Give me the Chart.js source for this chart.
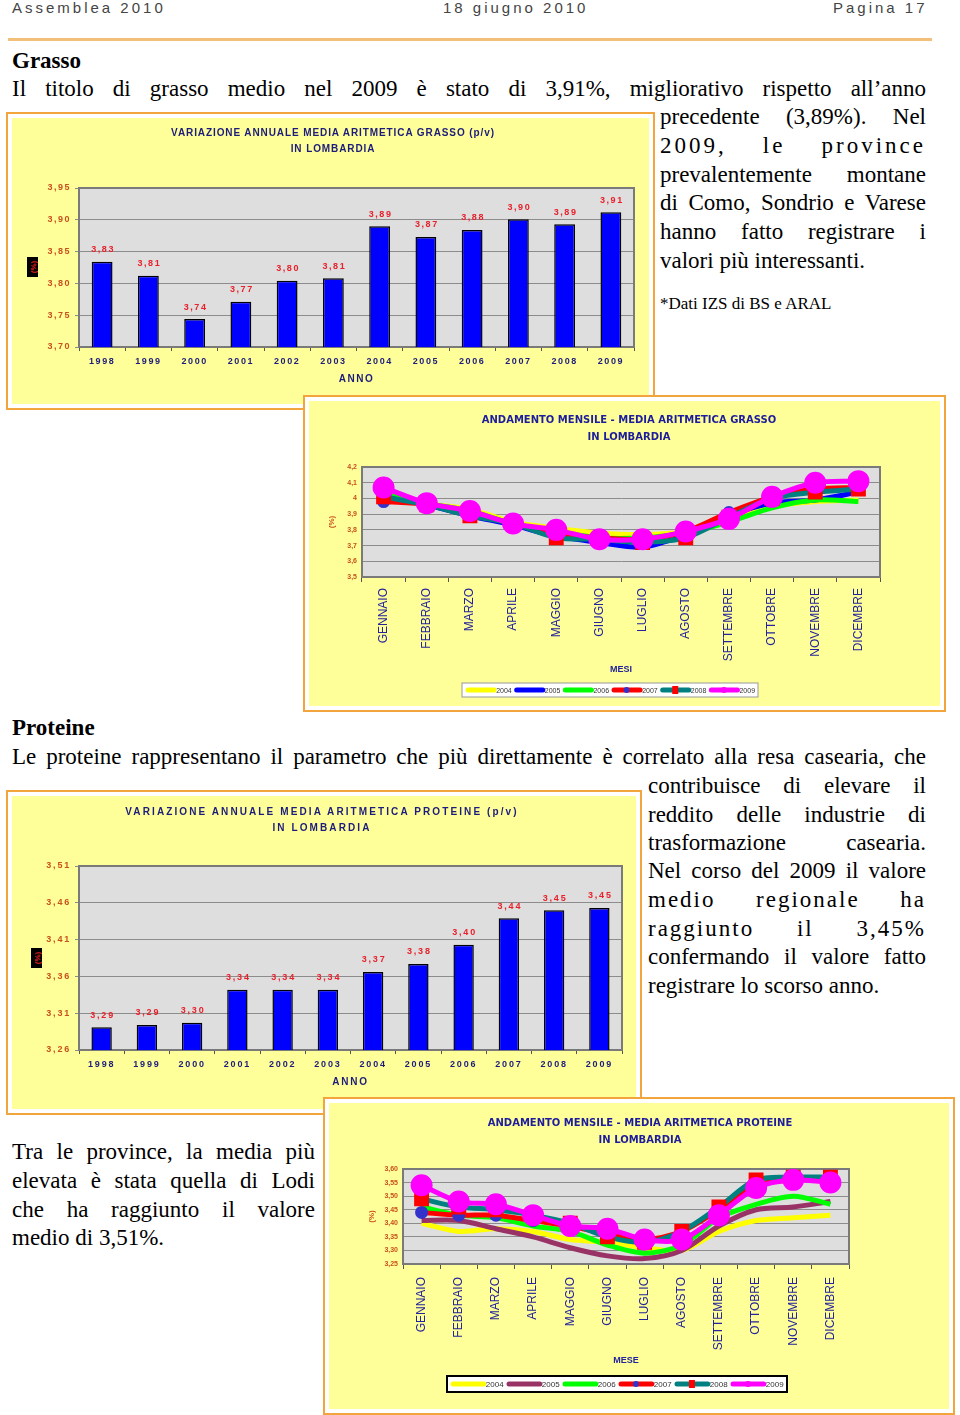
<!DOCTYPE html>
<html>
<head>
<meta charset="utf-8">
<script src="https://cdn.jsdelivr.net/npm/chart.js@4.4.0/dist/chart.umd.min.js"></script>
<style>
  body { margin: 0; background: #fff; width: 960px; height: 1415px; position: relative; overflow: hidden; font-family: "Liberation Serif", "DejaVu Serif", serif; }
  .hdr { position: absolute; top: -1px; font: 15px "Liberation Sans", Arial, sans-serif; letter-spacing: 3px; color: #444; line-height: 17px; }
  .rule { position: absolute; left: 8px; top: 38px; width: 924px; height: 3px; background: #f2c07a; }
  .ln { position: absolute; font-size: 23px; line-height: 29px; height: 29px; white-space: nowrap; color: #000; }
  .j { text-align: justify; text-align-last: justify; white-space: normal; overflow: hidden; }
  .h { font-weight: bold; }
  .box { position: absolute; box-sizing: border-box; border: 2px solid #f2a53c; background: #fff; }
  .box .in { position: absolute; left: 4px; top: 4px; right: 4px; bottom: 4px; background: #ffff99; }
  .ct { position: absolute; text-align: center; font: bold 10px "Liberation Sans", Arial, sans-serif; color: #1c1c7c; letter-spacing: 0.9px; line-height: 16px; }
  .ct2 { position: absolute; text-align: center; font: bold 10px "DejaVu Sans", sans-serif; color: #1c1c9c; line-height: 17px; }
  .pct { position: absolute; background: #000; width: 11px; height: 20px; }
  .pct span { position: absolute; left: 50%; top: 50%; transform: translate(-50%, -50%) rotate(-90deg); font: bold 8px "Liberation Sans", Arial, sans-serif; color: #e02020; white-space: nowrap; }
  canvas { position: absolute; }
</style>
</head>
<body>
<div class="hdr" style="left:12px">Assemblea 2010</div>
<div class="hdr" style="left:443px">18 giugno 2010</div>
<div class="hdr" style="left:833px">Pagina 17</div>
<div class="rule"></div>

<div class="ln h" style="left:12px;top:46px">Grasso</div>
<div class="ln j" style="left:12px;top:74px;width:914px">Il titolo di grasso medio nel 2009 è stato di 3,91%, migliorativo rispetto all’anno</div>
<div class="ln j" style="left:660px;top:102px;width:266px">precedente (3,89%). Nel</div>
<div class="ln j" style="left:660px;top:131px;width:266px;letter-spacing:3px">2009, le province</div>
<div class="ln j" style="left:660px;top:160px;width:266px">prevalentemente montane</div>
<div class="ln j" style="left:660px;top:188px;width:266px">di Como, Sondrio e Varese</div>
<div class="ln j" style="left:660px;top:217px;width:266px">hanno fatto registrare i</div>
<div class="ln" style="left:660px;top:246px">valori più interessanti.</div>
<div class="ln" style="left:660px;top:289px;font-size:17px">*Dati IZS di BS e ARAL</div>

<div class="ln h" style="left:12px;top:713px">Proteine</div>
<div class="ln j" style="left:12px;top:742px;width:914px">Le proteine rappresentano il parametro che più direttamente è correlato alla resa casearia, che</div>
<div class="ln j" style="left:648px;top:771px;width:278px">contribuisce di elevare il</div>
<div class="ln j" style="left:648px;top:800px;width:278px">reddito delle industrie di</div>
<div class="ln j" style="left:648px;top:828px;width:278px">trasformazione casearia.</div>
<div class="ln j" style="left:648px;top:856px;width:278px">Nel corso del 2009 il valore</div>
<div class="ln j" style="left:648px;top:885px;width:278px;letter-spacing:2px">medio regionale ha</div>
<div class="ln j" style="left:648px;top:914px;width:278px;letter-spacing:2px">raggiunto il 3,45%</div>
<div class="ln j" style="left:648px;top:942px;width:278px">confermando il valore fatto</div>
<div class="ln" style="left:648px;top:971px">registrare lo scorso anno.</div>

<div class="ln j" style="left:12px;top:1137px;width:303px">Tra le province, la media più</div>
<div class="ln j" style="left:12px;top:1166px;width:303px">elevata è stata quella di Lodi</div>
<div class="ln j" style="left:12px;top:1195px;width:303px">che ha raggiunto il valore</div>
<div class="ln" style="left:12px;top:1223px">medio di 3,51%.</div>

<!-- grasso annuale -->
<div class="box" style="left:6px;top:112px;width:649px;height:298px"><div class="in"></div></div>
<canvas id="c1" width="637" height="286" style="left:12px;top:118px"></canvas>
<div class="ct" style="left:83px;top:125px;width:500px">VARIAZIONE ANNUALE MEDIA ARITMETICA GRASSO (p/v)<br>IN LOMBARDIA</div>
<div class="pct" style="left:27px;top:257px"><span>(%)</span></div>

<!-- grasso mensile -->
<div class="box" style="left:303px;top:395px;width:643px;height:317px"><div class="in"></div></div>
<canvas id="c2" width="631" height="305" style="left:309px;top:401px"></canvas>
<div class="ct2" style="left:429px;top:411px;width:400px">ANDAMENTO MENSILE - MEDIA ARITMETICA GRASSO<br>IN LOMBARDIA</div>

<!-- proteine annuale -->
<div class="box" style="left:6px;top:790px;width:636px;height:325px"><div class="in"></div></div>
<canvas id="c3" width="624" height="313" style="left:12px;top:796px"></canvas>
<div class="ct" style="left:62px;top:804px;width:520px;letter-spacing:2.1px">VARIAZIONE ANNUALE MEDIA ARITMETICA PROTEINE (p/v)<br>IN LOMBARDIA</div>
<div class="pct" style="left:31px;top:948px"><span>(%)</span></div>

<!-- proteine mensile -->
<div class="box" style="left:323px;top:1097px;width:632px;height:318px"><div class="in"></div></div>
<canvas id="c4" width="620" height="306" style="left:329px;top:1103px"></canvas>
<div class="ct2" style="left:415px;top:1114px;width:450px">ANDAMENTO MENSILE - MEDIA ARITMETICA PROTEINE<br>IN LOMBARDIA</div>

<script>
// dati
const anni = ['1998', '1999', '2000', '2001', '2002', '2003', '2004', '2005', '2006', '2007', '2008', '2009'];
const grassoAnno = [3.834, 3.812, 3.744, 3.771, 3.804, 3.808, 3.890, 3.873, 3.884, 3.901, 3.893, 3.912];
const proteineAnno = [3.291, 3.294, 3.297, 3.342, 3.342, 3.342, 3.366, 3.377, 3.403, 3.439, 3.450, 3.453];
const yTicksGrassoAnno = [3.70, 3.75, 3.80, 3.85, 3.90, 3.95];
const yTicksProteineAnno = [3.26, 3.31, 3.36, 3.41, 3.46, 3.51];

const mesi = ['GENNAIO', 'FEBBRAIO', 'MARZO', 'APRILE', 'MAGGIO', 'GIUGNO', 'LUGLIO', 'AGOSTO', 'SETTEMBRE', 'OTTOBRE', 'NOVEMBRE', 'DICEMBRE'];
const serieAnni = ['2004', '2005', '2006', '2007', '2008', '2009'];

const grasso2004 = [4.05, 3.97, 3.93, 3.85, 3.81, 3.78, 3.77, 3.79, 3.87, 3.95, 3.98, 3.99];
const grasso2005 = [4.02, 3.96, 3.89, 3.83, 3.76, 3.72, 3.69, 3.77, 3.89, 3.97, 3.99, 4.04];
const grasso2006 = [4.05, 3.97, 3.92, 3.84, 3.79, 3.75, 3.75, 3.78, 3.85, 3.94, 3.99, 3.98];
const grasso2007 = [3.98, 3.96, 3.90, 3.84, 3.77, 3.75, 3.74, 3.79, 3.91, 4.01, 4.06, 4.07];
const grasso2008 = [4.01, 3.96, 3.89, 3.84, 3.75, 3.74, 3.72, 3.75, 3.88, 4.00, 4.04, 4.06];
const grasso2009 = [4.07, 3.97, 3.92, 3.84, 3.80, 3.74, 3.74, 3.79, 3.87, 4.01, 4.10, 4.11];
const yTicksGrassoMese = [3.5, 3.6, 3.7, 3.8, 3.9, 4.0, 4.1, 4.2];

const proteine2004 = [3.40, 3.37, 3.38, 3.37, 3.34, 3.33, 3.31, 3.30, 3.37, 3.41, 3.42, 3.43];
const proteine2005 = [3.41, 3.41, 3.38, 3.35, 3.31, 3.28, 3.27, 3.30, 3.39, 3.45, 3.46, 3.48];
const proteine2006 = [3.46, 3.43, 3.42, 3.39, 3.37, 3.32, 3.29, 3.32, 3.42, 3.47, 3.50, 3.47];
const proteine2007 = [3.44, 3.43, 3.43, 3.41, 3.39, 3.36, 3.34, 3.37, 3.45, 3.54, 3.56, 3.56];
const proteine2008 = [3.49, 3.46, 3.45, 3.43, 3.40, 3.35, 3.33, 3.37, 3.46, 3.56, 3.57, 3.57];
const proteine2009 = [3.54, 3.48, 3.47, 3.43, 3.39, 3.38, 3.34, 3.34, 3.43, 3.53, 3.56, 3.55];
const yTicksProteineMese = [3.25, 3.30, 3.35, 3.40, 3.45, 3.50, 3.55, 3.60];

const navy = '#1c1c7c';
const brown = '#c8501e';
const sans = '"Liberation Sans", Arial, sans-serif';
Chart.defaults.font.family = sans;

const comma = (v, d) => v.toFixed(d).replace('.', ',');

// sfondo grigio dell'area del grafico + bordo
const plotBg = {
  id: 'plotBg',
  beforeDraw(chart) {
    const { ctx, chartArea: a } = chart;
    ctx.save();
    ctx.fillStyle = '#dedede';
    ctx.fillRect(a.left, a.top, a.width, a.height);
    ctx.restore();
  },
  beforeDatasetsDraw(chart) {
    const { ctx, chartArea: a } = chart;
    ctx.save();
    ctx.strokeStyle = '#7a7a7a';
    ctx.lineWidth = 2;
    ctx.strokeRect(a.left, a.top, a.width, a.height);
    ctx.restore();
  }
};

const spacing = {
  id: 'spacing',
  beforeDraw(chart, args, o) { chart.ctx.letterSpacing = (o.px || 0) + 'px'; }
};

// etichette rosse sopra le barre
const barLabels = {
  id: 'barLabels',
  afterDatasetsDraw(chart) {
    const { ctx } = chart;
    const meta = chart.getDatasetMeta(0);
    const values = chart.data.datasets[0].data;
    ctx.save();
    ctx.font = 'bold 9px ' + sans;
    ctx.fillStyle = '#e8202a';
    ctx.textAlign = 'center';
    ctx.textBaseline = 'middle';
    meta.data.forEach((bar, i) => {
      ctx.fillText(comma(values[i], 2), bar.x + 1, bar.y - 12);
    });
    ctx.restore();
  }
};

// legenda in riquadro bianco (stile Excel)
const boxLegend = {
  id: 'boxLegend',
  afterDraw(chart, args, o) {
    const { ctx } = chart;
    const sets = chart.data.datasets;
    ctx.save();
    ctx.fillStyle = '#fff';
    ctx.fillRect(o.x, o.y, o.w, o.h);
    ctx.strokeStyle = o.border;
    ctx.lineWidth = o.bw;
    ctx.strokeRect(o.x, o.y, o.w, o.h);
    const step = (o.w - 4) / sets.length;
    const ym = o.y + o.h / 2;
    sets.forEach((ds, i) => {
      const x0 = o.x + 3 + i * step;
      const len = step * 0.64;
      ctx.strokeStyle = ds.borderColor;
      ctx.lineWidth = 5;
      ctx.lineCap = 'round';
      ctx.beginPath();
      ctx.moveTo(x0 + 3, ym);
      ctx.lineTo(x0 + len - 2, ym);
      ctx.stroke();
      if (ds.pointRadius > 0) {
        const mx = x0 + len / 2;
        ctx.fillStyle = ds.pointBackgroundColor;
        if (ds.pointStyle === 'rect') {
          ctx.fillRect(mx - 3, ym - 4, 6, 8);
        } else {
          ctx.beginPath();
          ctx.arc(mx, ym, 3, 0, Math.PI * 2);
          ctx.fill();
        }
      }
      ctx.fillStyle = '#333';
      ctx.font = o.fontSize + 'px ' + sans;
      ctx.textAlign = 'left';
      ctx.textBaseline = 'middle';
      ctx.fillText(ds.label, x0 + len, ym + 1);
    });
    ctx.restore();
  }
};

function barChart(id, values, yTicks, pad, xHeight, titlePad, ls) {
  return new Chart(document.getElementById(id), {
    type: 'bar',
    data: {
      labels: anni,
      datasets: [{
        data: values,
        backgroundColor: '#0000ff',
        borderColor: '#000',
        borderWidth: 1.5,
        barPercentage: 0.45,
        categoryPercentage: 1
      }]
    },
    options: {
      responsive: false,
      animation: false,
      layout: { padding: pad },
      plugins: {
        legend: { display: false },
        tooltip: { enabled: false },
        spacing: { px: ls }
      },
      scales: {
        x: {
          grid: { drawOnChartArea: false, tickLength: 4, color: '#555' },
          border: { color: '#555', width: 1 },
          ticks: { color: navy, font: { size: 9, weight: 'bold' }, padding: 5, maxRotation: 0 },
          title: { display: true, text: 'ANNO', color: navy, font: { size: 10, weight: 'bold' }, padding: { top: 0, bottom: titlePad } },
          afterFit(s) { s.height = xHeight; }
        },
        y: {
          min: yTicks[0],
          max: yTicks[yTicks.length - 1],
          afterBuildTicks(s) { s.ticks = yTicks.map(v => ({ value: v })); },
          ticks: { color: brown, font: { size: 9, weight: 'bold' }, padding: 4, callback: v => comma(v, 2) },
          grid: { color: '#8c8c8c', tickLength: 4 },
          border: { color: '#555' },
          afterFit(s) { s.width = 67; }
        }
      }
    },
    plugins: [spacing, plotBg, barLabels]
  });
}

function lineSets(vals, c2005) {
  const colors = ['#ffff00', c2005, '#00ff00', '#ff0000', '#008080', '#ff00ff'];
  return vals.map((data, i) => {
    const ds = {
      label: serieAnni[i],
      data,
      borderColor: colors[i],
      borderWidth: 5,
      tension: 0.3,
      pointRadius: 0,
      order: 6 - i
    };
    if (i === 3) Object.assign(ds, { pointRadius: 4, pointStyle: 'circle', pointBackgroundColor: '#3333cc', pointBorderColor: '#3333cc' });
    if (i === 4) Object.assign(ds, { pointRadius: 7, pointStyle: 'rect', pointBackgroundColor: '#ff0000', pointBorderColor: '#ff0000' });
    if (i === 5) Object.assign(ds, { pointRadius: 8.5, pointStyle: 'circle', pointBackgroundColor: '#ff00ff', pointBorderColor: '#ff00ff', borderWidth: 5 });
    return ds;
  });
}

function lineChart(id, sets, yTicks, dec, pad, yWidth, yTitlePad, xHeight, xTitle, tickPad, legend) {
  return new Chart(document.getElementById(id), {
    type: 'line',
    data: { labels: mesi, datasets: sets },
    options: {
      responsive: false,
      animation: false,
      layout: { padding: pad },
      plugins: {
        legend: { display: false },
        tooltip: { enabled: false },
        boxLegend: legend
      },
      scales: {
        x: {
          offset: true,
          grid: { drawOnChartArea: false, offset: true, tickLength: 5, color: '#555' },
          border: { color: '#555' },
          ticks: { color: '#23239b', font: { size: 12 }, minRotation: 90, maxRotation: 90, autoSkip: false, padding: tickPad },
          title: { display: true, text: xTitle, color: '#23239b', font: { size: 9, weight: 'bold' }, padding: { top: 0, bottom: 2 } },
          afterFit(s) { s.height = xHeight; }
        },
        y: {
          min: yTicks[0],
          max: yTicks[yTicks.length - 1],
          afterBuildTicks(s) { s.ticks = yTicks.map(v => ({ value: v })); },
          ticks: { color: brown, font: { size: 7, weight: 'bold' }, padding: 5, callback: v => dec ? comma(v, dec) : String(Math.round(v * 10) / 10).replace('.', ',') },
          grid: { color: '#8c8c8c', drawTicks: false },
          border: { color: '#555' },
          title: { display: true, text: '(%)', color: brown, font: { size: 8, weight: 'bold' }, padding: { top: yTitlePad } },
          afterFit(s) { s.width = yWidth; }
        }
      }
    },
    plugins: [plotBg, boxLegend]
  });
}

barChart('c1', grassoAnno, yTicksGrassoAnno, { left: 0, top: 70, right: 15, bottom: 17 }, 40, 2, 1.5);
barChart('c3', proteineAnno, yTicksProteineAnno, { left: 0, top: 70, right: 14, bottom: 19 }, 40, 2, 1.8);

lineChart('c2',
  lineSets([grasso2004, grasso2005, grasso2006, grasso2007, grasso2008, grasso2009], '#0000ff'),
  yTicksGrassoMese, 0,
  { left: 0, top: 66, right: 60, bottom: 29 }, 53, 18, 100, 'MESI', 6,
  { x: 153, y: 282, w: 296, h: 14, border: '#999', bw: 1, fontSize: 7 });

lineChart('c4',
  lineSets([proteine2004, proteine2005, proteine2006, proteine2007, proteine2008, proteine2009], '#993366'),
  yTicksProteineMese, 2,
  { left: 0, top: 66, right: 100, bottom: 41 }, 74, 38, 104, 'MESE', 8,
  { x: 118, y: 273, w: 340, h: 16, border: '#000', bw: 2, fontSize: 8 });
</script>
</body>
</html>
